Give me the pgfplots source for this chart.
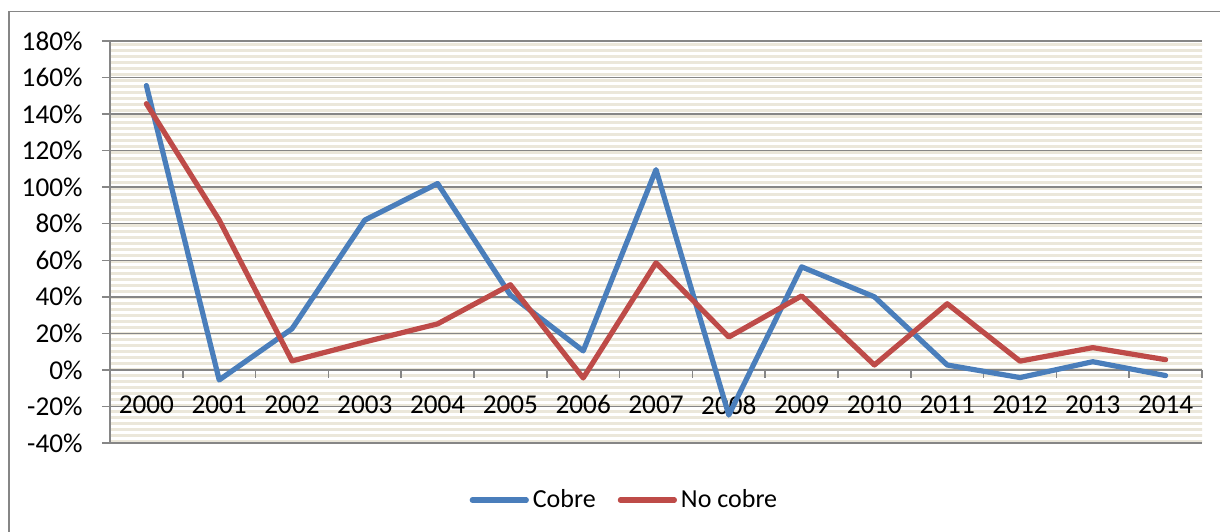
\documentclass[border=0pt]{standalone}
\usepackage{fontspec}
\setmainfont{Carlito}
\usepackage{pgfplots}
\pgfplotsset{compat=1.18}
\usetikzlibrary{patterns.meta}
\definecolor{cobre}{HTML}{4A7EBB}
\definecolor{nocobre}{HTML}{BE4B48}
\definecolor{gridc}{HTML}{868686}
\definecolor{stripe}{HTML}{EBE7DA}
\begin{document}
\fontsize{13.6}{16}\selectfont
\begin{tikzpicture}
\useasboundingbox (0,0) rectangle (610pt,265.5pt);
\fill[white] (0,0) rectangle (610pt,265.5pt);
\draw[gridc, line width=0.6pt] (4.5pt,-5pt) rectangle (615pt,259.7pt);
\begin{axis}[
  at={(55pt,44pt)}, anchor=south west,
  scale only axis, width=546pt, height=201pt,
  xmin=-0.5, xmax=14.5, ymin=-40, ymax=180,
  axis x line=middle, axis y line=left,
  axis line style={-, gridc, line width=0.75pt},
  hide obscured x ticks=false, hide obscured y ticks=false,
  tick align=outside, major tick length=4pt,
  tick style={gridc, line width=0.75pt},
  xtick={-0.5,0.5,...,14.5}, xticklabels={},
  extra x ticks={0,1,...,14},
  extra x tick labels={2000,2001,2002,2003,2004,2005,2006,2007,2008,2009,2010,2011,2012,2013,2014},
  extra x tick style={major tick length=0pt, tick label style={anchor=center, yshift=-17.5pt}},
  ytick={-40,-20,...,180},
  yticklabels={-40\%,-20\%,0\%,20\%,40\%,60\%,80\%,100\%,120\%,140\%,160\%,180\%},
  yticklabel style={xshift=-5pt},
  ymajorgrids, grid style={gridc, line width=0.75pt},
  axis background/.style={preaction={fill=white}, pattern={Lines[distance=3pt, angle=0, line width=1.5pt]}, pattern color=stripe},
  legend style={at={(0.472,-0.142)}, anchor=center, draw=none, fill=none, legend columns=2,
    font=\fontsize{13}{15}\selectfont,
    /tikz/every even column/.append style={column sep=9pt}},
  legend image code/.code={\draw[#1] (0pt,0pt) -- (27pt,0pt);},
]
\addplot[cobre, line width=2.6pt, line join=round, line cap=round] coordinates {
(0,155.6) (1,-5.5) (2,22.5) (3,82) (4,102) (5,41) (6,10.4) (7,109.6) (8,-24.7) (9,56.4) (10,40) (11,2.7) (12,-4.2) (13,4.5) (14,-3.1)};
\addlegendentry{Cobre}
\addplot[nocobre, line width=2.6pt, line join=round, line cap=round] coordinates {
(0,145.7) (1,82) (2,4.9) (3,15.3) (4,25.2) (5,46.6) (6,-4.4) (7,58.6) (8,18) (9,40.5) (10,2.7) (11,36.2) (12,4.8) (13,12.2) (14,5.6)};
\addlegendentry{No cobre}
\end{axis}
\end{tikzpicture}
\end{document}
